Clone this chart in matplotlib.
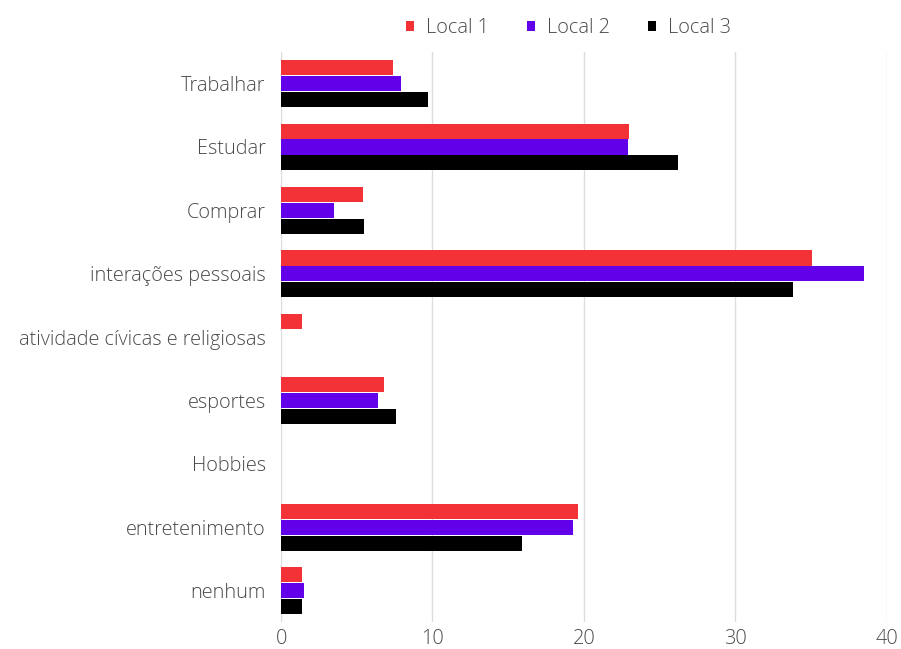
import numpy as np
import matplotlib.pyplot as plt

# dados
categorias = ['Trabalhar', 'Estudar', 'Comprar', 'interações pessoais',
              'atividade cívicas e religiosas', 'esportes', 'Hobbies',
              'entretenimento', 'nenhum']
local1 = [7.4, 23.0, 5.4, 35.1, 1.4, 6.8, 0, 19.6, 1.4]
local2 = [7.9, 22.9, 3.5, 38.5, 0, 6.4, 0, 19.3, 1.5]
local3 = [9.7, 26.2, 5.5, 33.8, 0, 7.6, 0, 15.9, 1.4]
series = ['Local 1', 'Local 2', 'Local 3']
cores = ['#f23237', '#6200ea', '#000000']

plt.rcParams['font.family'] = ['Open Sans', 'DejaVu Sans']
fs = 14.3
cinza = '#4a4a4a'

fig = plt.figure(figsize=(9.01, 6.49), dpi=100)
ax = fig.add_axes([0.312, 0.041, 0.672, 0.879])

y = np.arange(len(categorias))
h = 0.24
passo = 0.25
for i, (vals, nome, cor) in enumerate(zip([local1, local2, local3], series, cores)):
    vals = np.array(vals, dtype=float)
    vals[vals == 0] = np.nan  # zero nao desenha nada
    ax.barh(y + (i - 1) * passo, vals, height=h, color=cor, label=nome,
            linewidth=0, zorder=3)

ax.set_ylim(len(categorias) - 0.5, -0.5)
ax.set_xlim(0, 40)
ax.set_xticks([0, 10, 20, 30, 40])
ax.set_yticks(y)
ax.set_yticklabels(categorias)
ax.grid(axis='x', color='#dddddd', linewidth=1, zorder=0)
for s in ax.spines.values():
    s.set_visible(False)
ax.tick_params(length=0, labelsize=fs, labelcolor=cinza)
ax.tick_params(axis='y', pad=11)
ax.tick_params(axis='x', pad=5)
for t in ax.get_xticklabels() + ax.get_yticklabels():
    t.set_fontweight('light')

leg = ax.legend(loc='lower center', bbox_to_anchor=(0.475, 1.0), ncol=3,
                frameon=False, fontsize=fs, handlelength=0.42, handleheight=0.42,
                handletextpad=0.6, columnspacing=1.9, borderaxespad=0.3)
for t in leg.get_texts():
    t.set_color(cinza)
    t.set_fontweight('light')

fig.savefig('out.png', dpi=100)
